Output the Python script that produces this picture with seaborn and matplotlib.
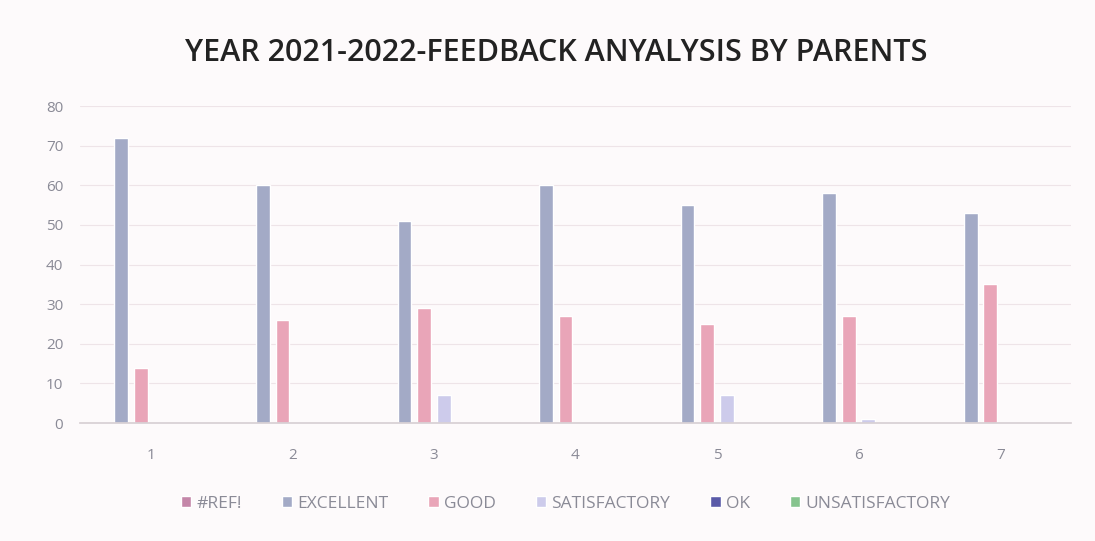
import matplotlib
matplotlib.use("Agg")
import matplotlib.pyplot as plt
import seaborn as sns
import pandas as pd

categories = ["1", "2", "3", "4", "5", "6", "7"]
series_names = ["#REF!", "EXCELLENT", "GOOD", "SATISFACTORY", "OK", "UNSATISFACTORY"]
ref_vals = [0, 0, 0, 0, 0, 0, 0]
excellent = [72, 60, 51, 60, 55, 58, 53]
good = [14, 26, 29, 27, 25, 27, 35]
satisfactory = [0, 0, 7, 0, 7, 1, 0]
ok_vals = [0, 0, 0, 0, 0, 0, 0]
unsatisfactory = [0, 0, 0, 0, 0, 0, 0]
colors = ["#c486a8", "#a3aac6", "#e9a5b8", "#cdcbeb", "#5a5aa8", "#86c48e"]

values = [ref_vals, excellent, good, satisfactory, ok_vals, unsatisfactory]
rows = []
for name, vals in zip(series_names, values):
    for c, v in zip(categories, vals):
        rows.append({"cat": c, "series": name, "value": v})
df = pd.DataFrame(rows)

sns.set_theme(style="white")
plt.rcParams['font.family'] = ['Open Sans', 'DejaVu Sans']

fig = plt.figure(figsize=(10.95, 5.41), dpi=100)
fig.patch.set_facecolor("#fdfafb")
ax = fig.add_axes([0.073, 0.218, 0.905, 0.586])
ax.set_facecolor("#fdfafb")

sns.barplot(data=df, x="cat", y="value", hue="series", order=categories,
            hue_order=series_names, palette=colors, width=0.83, gap=0.3,
            ax=ax, saturation=1, errorbar=None)

ax.set_ylim(0, 80)
ax.set_yticks(range(0, 81, 10))
ax.set_xlim(-0.5, 6.5)
ax.grid(axis="y", color="#eee4e8", linewidth=0.8)
ax.set_axisbelow(True)
for s in ["top", "right", "left"]:
    ax.spines[s].set_visible(False)
ax.spines["bottom"].set_color("#d8d0d4")
ax.tick_params(axis="both", colors="#8a8a96", labelsize=11, length=0)
ax.tick_params(axis="x", pad=18)
ax.tick_params(axis="y", pad=12)
ax.set_xlabel("")
ax.set_ylabel("")

fig.suptitle("YEAR 2021-2022-FEEDBACK ANYALYSIS BY PARENTS", x=0.508, y=0.93,
             fontsize=22, color="#222222", fontweight="semibold")

handles, labels = ax.get_legend_handles_labels()
ax.legend(handles, labels, loc="upper center", bbox_to_anchor=(0.49, -0.18),
          ncol=6, frameon=False, fontsize=12.5, labelcolor="#8a8a96",
          handlelength=0.6, handleheight=0.6, handletextpad=0.3, columnspacing=2.3)

fig.savefig("out.png", dpi=100, facecolor=fig.get_facecolor())
